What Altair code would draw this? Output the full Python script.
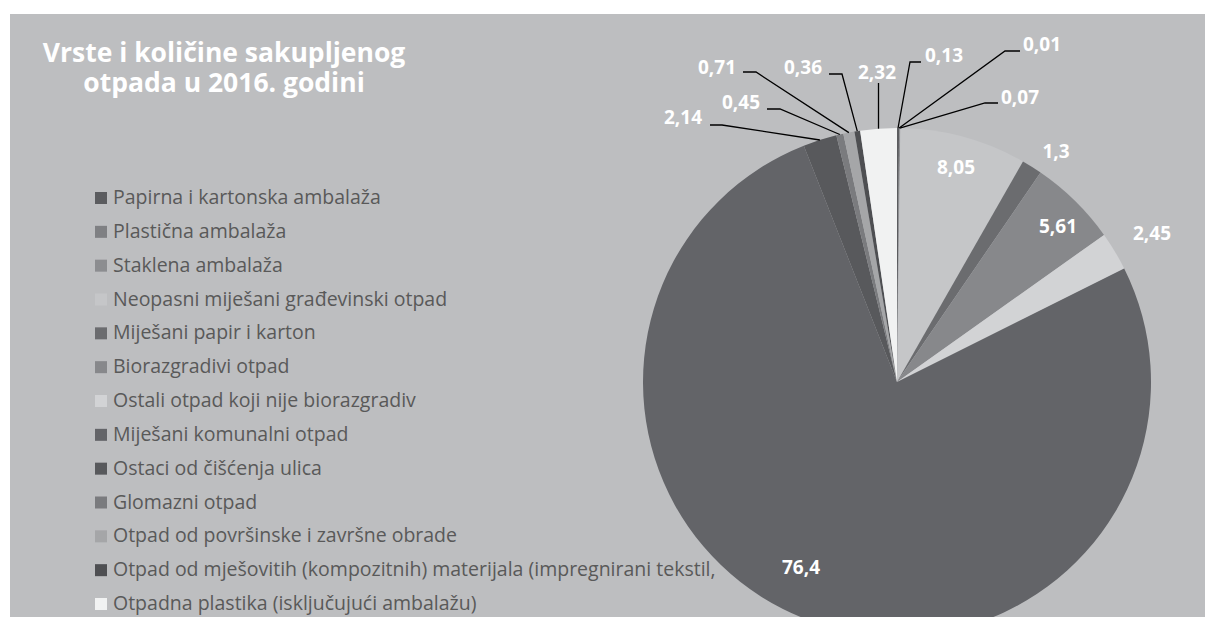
import math
import altair as alt
import pandas as pd

# ---------------- data ----------------
categories = [
    "Papirna i kartonska ambalaža",
    "Plastična ambalaža",
    "Staklena ambalaža",
    "Neopasni miješani građevinski otpad",
    "Miješani papir i karton",
    "Biorazgradivi otpad",
    "Ostali otpad koji nije biorazgradiv",
    "Miješani komunalni otpad",
    "Ostaci od čišćenja ulica",
    "Glomazni otpad",
    "Otpad od površinske i završne obrade",
    "Otpad od mješovitih (kompozitnih) materijala (impregnirani tekstil,",
    "Otpadna plastika (isključujući ambalažu)",
]
values = [0.13, 0.01, 0.07, 8.05, 1.3, 5.61, 2.45, 76.4, 2.14, 0.45, 0.71, 0.36, 2.32]
title_lines = ["Vrste i količine sakupljenog", "otpada u 2016. godini"]

# ---------------- styles / layout ----------------
colors = ["#5b5c5f", "#7f8083", "#8c8d90", "#c5c6c8", "#6b6c6f", "#87888b", "#d2d3d5",
          "#636468", "#58595c", "#7a7b7e", "#a5a6a8", "#4e4f52", "#f1f2f2"]
W, H = 1205, 617
CX, CY, R = 897, 382, 254
BG = "#bdbec0"

# label text centres (layout)
label_xy = [(944, 56), (1042, 45), (1020, 98), (956, 168), (1056, 152), (1058, 227),
            (1152, 234), (801, 568), (683, 118), (741, 103), (717, 68), (803, 68), (877, 73)]
# leader start / elbow (layout)
leader_layout = {
    0: [(921, 62), (910, 62)],
    1: [(1020, 51), (1005, 51)],
    2: [(998, 103), (985, 103)],
    8: [(710, 125), (722, 125)],
    9: [(767, 109), (780, 109)],
    10: [(743, 72), (756, 72)],
    11: [(829, 74), (842, 74)],
    12: [(878, 83)],
}

df = pd.DataFrame({
    "idx": list(range(len(values))),
    "name": categories,
    "value": values,
    "label": [str(v).replace(".", ",") for v in values],
    "lx": [p[0] for p in label_xy],
    "ly": [p[1] for p in label_xy],
})

total = sum(values)
cum = 0.0
leader_rows = []
for i, v in enumerate(values):
    mid = (cum + v / 2) / total * 2 * math.pi
    cum += v
    if i in leader_layout:
        pts = list(leader_layout[i])
        ex, ey = CX + R * math.sin(mid), CY - R * math.cos(mid)
        if i == 12:
            pts = [(ex, pts[0][1])]
        pts.append((ex, ey))
        for s, (px, py) in enumerate(pts):
            leader_rows.append({"g": i, "s": s, "px": px, "py": py})
leaders = pd.DataFrame(leader_rows)

px_x = alt.Scale(domain=[0, W], range=[0, W], nice=False, zero=False)
px_y = alt.Scale(domain=[0, H], range=[0, H], nice=False, zero=False)
color_scale = alt.Scale(domain=categories, range=colors)

panel = alt.Chart(pd.DataFrame({"a": [0]})).mark_rect(color=BG).encode(
    x=alt.value(10), x2=alt.value(W), y=alt.value(14), y2=alt.value(H)
)

leg_y = alt.Y("idx:Q", scale=alt.Scale(domain=[0, 12], range=[198, 604], nice=False, zero=False), axis=None)
legend_sq = alt.Chart(df).mark_square(size=144, opacity=1, filled=True).encode(
    x=alt.value(101), y=leg_y,
    color=alt.Color("name:N", scale=color_scale, legend=None),
)
legend_txt = alt.Chart(df).mark_text(
    align="left", baseline="middle", font="Open Sans", fontSize=19.5, color="#595959"
).encode(x=alt.value(113), y=leg_y, text="name:N")

title_df = pd.DataFrame({"t": title_lines, "row": [0, 1]})
title = alt.Chart(title_df).mark_text(
    align="center", baseline="alphabetic", font="Open Sans", fontSize=26.5, fontWeight="bold",
    color="white"
).encode(
    x=alt.value(224),
    y=alt.Y("row:Q", scale=alt.Scale(domain=[0, 1], range=[62, 92], nice=False, zero=False), axis=None),
    text="t:N",
)

pie = alt.Chart(df).mark_arc(outerRadius=R).encode(
    x=alt.value(CX), y=alt.value(CY),
    theta=alt.Theta("value:Q", stack=True),
    order=alt.Order("idx:Q"),
    color=alt.Color("name:N", scale=color_scale, legend=None),
)

lines = alt.Chart(leaders).mark_line(color="black", strokeWidth=1.3).encode(
    x=alt.X("px:Q", scale=px_x, axis=None),
    y=alt.Y("py:Q", scale=px_y, axis=None),
    detail="g:N",
    order="s:Q",
)

labels = alt.Chart(df).mark_text(
    align="center", baseline="middle", font="Open Sans", fontSize=19, fontWeight="bold", color="white"
).encode(
    x=alt.X("lx:Q", scale=px_x, axis=None),
    y=alt.Y("ly:Q", scale=px_y, axis=None),
    text="label:N",
)

chart = alt.layer(panel, legend_sq, legend_txt, title, pie, lines, labels).resolve_scale(
    x="independent", y="independent"
).properties(
    width=W, height=H, padding=0, autosize=alt.AutoSizeParams(type="none"), background="white"
).configure_view(stroke=None)

chart.save("out.html", embed_options={"renderer": "svg", "actions": False})
